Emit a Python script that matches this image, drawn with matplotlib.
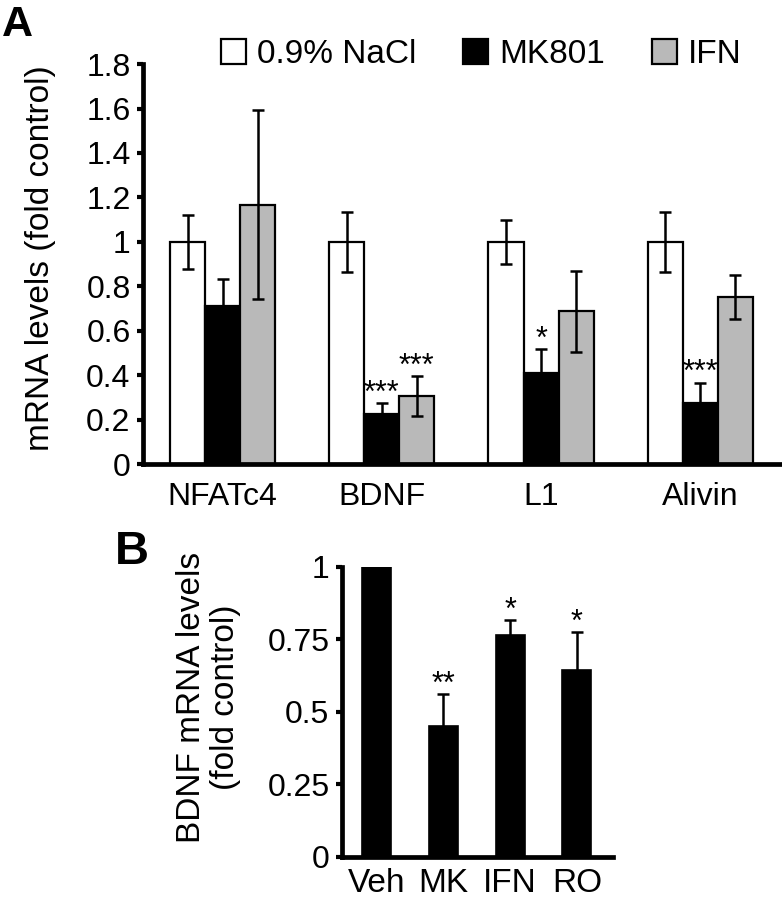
import matplotlib
matplotlib.use('Agg')
import matplotlib.pyplot as plt
import numpy as np

plt.rcParams['font.family'] = ['Liberation Sans', 'DejaVu Sans']

# Panel A data
genes = ['NFATc4', 'BDNF', 'L1', 'Alivin']
series_names = ['0.9% NaCl', 'MK801', 'IFN']
nacl_mean = [1.0, 1.0, 1.0, 1.0]
nacl_err = [0.12, 0.135, 0.10, 0.135]
mk801_mean = [0.71, 0.223, 0.411, 0.276]
mk801_err = [0.125, 0.05, 0.105, 0.09]
ifn_mean = [1.167, 0.306, 0.687, 0.753]
ifn_err = [0.425, 0.088, 0.183, 0.10]
nacl_stars = ['', '', '', '']
mk801_stars = ['', '***', '*', '***']
ifn_stars = ['', '***', '', '']
yticks_a = [0, 0.2, 0.4, 0.6, 0.8, 1, 1.2, 1.4, 1.6, 1.8]

# Panel B data
treatments = ['Veh', 'MK', 'IFN', 'RO']
bdnf_mean = [1.0, 0.452, 0.766, 0.645]
bdnf_err = [0.0, 0.11, 0.051, 0.131]
bdnf_stars = ['', '**', '*', '*']
yticks_b = [0, 0.25, 0.5, 0.75, 1]

fig = plt.figure(figsize=(7.82, 9), dpi=100)

# ---------- panel A ----------
axA = fig.add_axes([0.1829, 0.4844, 0.8184, 0.4444])
x = np.arange(len(genes))
w = 0.22
colors = ['white', 'black', '#b9b9b9']
means = [nacl_mean, mk801_mean, ifn_mean]
errs = [nacl_err, mk801_err, ifn_err]
stars = [nacl_stars, mk801_stars, ifn_stars]
handles = []
for i in range(3):
    xs = x + (i - 1) * w
    b = axA.bar(xs, means[i], w, color=colors[i], edgecolor='black', linewidth=1.6,
                yerr=errs[i], error_kw=dict(ecolor='black', elinewidth=1.8, capsize=4.5, capthick=1.8),
                label=series_names[i])
    handles.append(b)
    for xi, m, e, s in zip(xs, means[i], errs[i], stars[i]):
        if s:
            axA.annotate(s, xy=(xi, m + e), xytext=(0, 1), textcoords='offset points',
                         ha='center', va='baseline', fontsize=22)

axA.set_xlim(-0.5, 3.52)
axA.set_ylim(0, 1.8)
axA.set_yticks(yticks_a)
axA.set_yticklabels([f'{t:g}' for t in yticks_a], fontsize=23)
axA.set_xticks(x)
axA.set_xticklabels(genes, fontsize=23)
axA.tick_params(axis='x', length=0, pad=13)
axA.tick_params(axis='y', direction='out', length=4, width=3, pad=5)
for sp in ['top', 'right']:
    axA.spines[sp].set_visible(False)
for sp in ['left', 'bottom']:
    axA.spines[sp].set_linewidth(3.4)

fig.text(41 / 782, 1 - 258 / 900, 'mRNA levels (fold control)', rotation=90,
         ha='center', va='center', fontsize=24)

fig.legend(handles=handles, loc='center', bbox_to_anchor=(0.6157, 0.9394), ncol=3,
           frameon=False, fontsize=24, handlelength=0.75, handleheight=0.75,
           handletextpad=0.33, columnspacing=1.4, borderpad=0)

fig.text(0.002, 1 - 5 / 900, 'A', fontsize=31, weight='bold', ha='left', va='top')

# ---------- panel B ----------
axB = fig.add_axes([0.4373, 0.0478, 0.3466, 0.3222])
xb = np.arange(len(treatments))
axB.bar(xb, bdnf_mean, 0.434, color='black', edgecolor='black', linewidth=1.2,
        yerr=bdnf_err, error_kw=dict(ecolor='black', elinewidth=1.8, capsize=4.5, capthick=1.8))
for xi, m, e, s in zip(xb, bdnf_mean, bdnf_err, bdnf_stars):
    if s:
        axB.annotate(s, xy=(xi, m + e), xytext=(0, 1), textcoords='offset points',
                     ha='center', va='baseline', fontsize=22)
axB.set_xlim(-0.516, 3.54)
axB.set_ylim(0, 1)
axB.set_yticks(yticks_b)
axB.set_yticklabels([f'{t:g}' for t in yticks_b], fontsize=23)
axB.set_xticks(xb)
axB.set_xticklabels(treatments, fontsize=24)
axB.tick_params(axis='x', length=0, pad=8)
axB.tick_params(axis='y', direction='out', length=4, width=3, pad=5)
for sp in ['top', 'right']:
    axB.spines[sp].set_visible(False)
for sp in ['left', 'bottom']:
    axB.spines[sp].set_linewidth(3.4)

fig.text(208.5 / 782, 1 - 697 / 900, 'BDNF mRNA levels\n(fold control)', rotation=90,
         ha='center', va='center', multialignment='center', fontsize=24, linespacing=1.15)

fig.text(115 / 782, 1 - 530 / 900, 'B', fontsize=34, weight='bold', ha='left', va='top')

fig.savefig('out.png', dpi=100)
